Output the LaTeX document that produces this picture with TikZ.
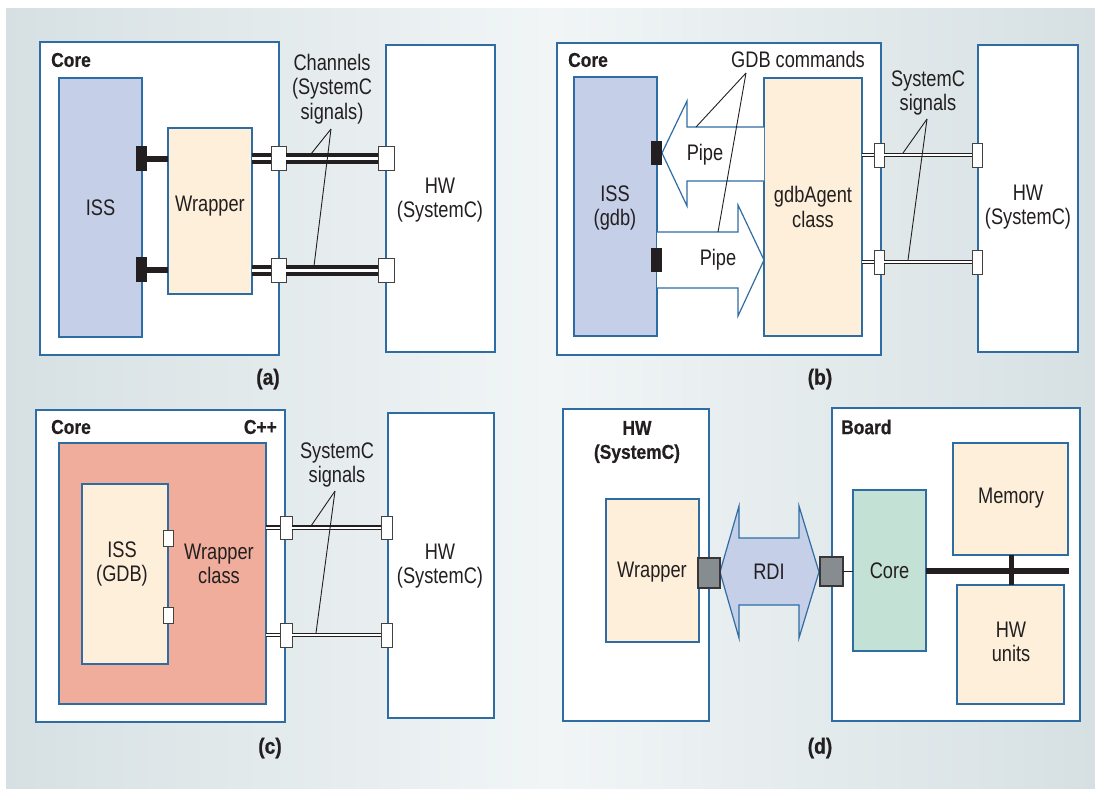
\documentclass[tikz,border=0pt]{standalone}
\usepackage{fontspec}
\setmainfont{Liberation Sans}[FakeStretch=0.81, BoldFeatures={FakeStretch=0.87, FakeBold=0.6}]
\usetikzlibrary{calc}
\definecolor{bluec}{HTML}{2E6DA4}
\definecolor{issc}{HTML}{C5CFE7}
\definecolor{creamc}{HTML}{FDEFD9}
\definecolor{salmonc}{HTML}{F0AD9C}
\definecolor{greenc}{HTML}{C4E1D6}
\definecolor{portc}{HTML}{878C91}
\definecolor{bgedge}{HTML}{D6E0E3}
\definecolor{bgmid}{HTML}{F1F5F6}
\definecolor{txt}{HTML}{231F20}
\tikzset{
  rbox/.style={draw=bluec, line width=1.2pt, inner sep=0pt, outer sep=0pt, anchor=north west},
  lab/.style={font=\fontsize{22.5}{24.5}\selectfont, text=txt, align=center, inner sep=0pt},
  title/.style={font=\fontsize{20}{24}\selectfont\bfseries, text=txt, align=center, inner sep=0pt},
  sublab/.style={font=\fontsize{22}{24}\selectfont\bfseries, text=txt, align=center, inner sep=0pt},
  port/.style={draw=txt!85, fill=white, line width=1pt, inner sep=0pt, outer sep=0pt, anchor=north west},
  gport/.style={draw=txt!90, fill=portc, line width=1.2pt, inner sep=0pt, outer sep=0pt, anchor=north west},
  blk/.style={fill=txt, draw=none, inner sep=0pt, outer sep=0pt, anchor=north west},
  dblA/.style={draw=txt, line width=4pt, double=white, double distance=3pt},
  dblB/.style={draw=txt, line width=1.3pt, double=white, double distance=2pt},
  lead/.style={draw=txt, line width=0.9pt},
  arrowline/.style={draw=bluec, line width=1.2pt, line join=miter}
}
\begin{document}
\begin{tikzpicture}[x=1pt,y=-1pt]
\useasboundingbox (0,0) rectangle (1095,788);
\shade[left color=bgedge, right color=bgedge, middle color=bgmid] (6,8) rectangle (1095,788);

% ---------------- (a)
\node[rbox, fill=white, minimum width=239pt, minimum height=313pt] (coreA) at (40,42) {};
\node[title, anchor=west] (coreAt) at (51,60) {Core};
\node[rbox, fill=issc, minimum width=83pt, minimum height=259pt] (issA) at (59,78) {};
\node[lab] (issAt) at (issA) {ISS};
\node[rbox, fill=creamc, minimum width=84pt, minimum height=166pt] (wrapA) at (168,128) {};
\node[lab] (wrapAt) at (210,206) {Wrapper};
\node[blk, minimum width=11pt, minimum height=25pt] (bA1) at (136,146) {};
\node[blk, minimum width=11pt, minimum height=25pt] (bA2) at (136,257) {};
\draw[txt, line width=6pt] (bA1.east) -- (wrapA.west |- bA1.east);
\draw[txt, line width=6pt] (bA2.east) -- (wrapA.west |- bA2.east);
\node[rbox, fill=white, minimum width=109pt, minimum height=307pt] (hwA) at (386,45) {};
\node[lab] (hwAt) at (440,200) {HW\\(SystemC)};
\node[port, minimum width=15pt, minimum height=24pt] (pA1) at (271,146) {};
\node[port, minimum width=15pt, minimum height=24pt] (pA2) at (271,258) {};
\node[port, minimum width=16pt, minimum height=24pt] (qA1) at (378,146) {};
\node[port, minimum width=16pt, minimum height=24pt] (qA2) at (378,258) {};
\draw[dblA] (wrapA.east |- pA1) -- (pA1.west);
\draw[dblA] (pA1.east) -- (qA1.west);
\draw[dblA] (wrapA.east |- pA2) -- (pA2.west);
\draw[dblA] (pA2.east) -- (qA2.west);
\node[lab] (chA) at (332,89) {Channels\\(SystemC\\signals)};
\coordinate (apA) at (331,129);
\coordinate (eA1) at (311,154);
\coordinate (eA2) at (314,266);
\draw[lead] (apA) -- (eA1);
\draw[lead] (apA) -- (eA2);
\node[sublab] (labA) at (268,379) {(a)};

% ---------------- (b)
\node[rbox, fill=white, minimum width=324pt, minimum height=312pt] (coreB) at (557,43) {};
\node[title, anchor=west] (coreBt) at (568,60) {Core};
\node[rbox, fill=issc, minimum width=83pt, minimum height=259pt] (issB) at (574,77) {};
\node[lab] (issBt) at (615,208) {ISS\\(gdb)};
\node[rbox, fill=creamc, minimum width=98pt, minimum height=258pt] (agB) at (764,78) {};
\node[lab] (agBt) at (813,207) {gdbAgent\\class};
\fill[white] (764,127) -- (687,127) -- (687,101) -- (662,153) -- (687,206) -- (687,181) -- (764,181) -- cycle;
\draw[arrowline] (764,127) -- (687,127) -- (687,101) -- (662,153) -- (687,206) -- (687,181) -- (764,181);
\fill[white] (657,232) -- (738,232) -- (738,205) -- (764,260) -- (738,316) -- (738,288) -- (657,288) -- cycle;
\draw[arrowline] (657,232) -- (738,232) -- (738,205) -- (764,260) -- (738,316) -- (738,288) -- (657,288);
\node[lab] (pipe1) at (705,155) {Pipe};
\node[lab] (pipe2) at (718,260) {Pipe};
\node[blk, minimum width=11pt, minimum height=24pt] (bB1) at (651,141) {};
\node[blk, minimum width=11pt, minimum height=24pt] (bB2) at (651,248) {};
\node[lab] (gdbc) at (798,59) {GDB commands};
\coordinate (apB) at (746,73);
\coordinate (eB1) at (696,127);
\coordinate (eB2) at (718,232);
\draw[lead] (apB) -- (eB1);
\draw[lead] (apB) -- (eB2);
\node[rbox, fill=white, minimum width=100pt, minimum height=307pt] (hwB) at (978,45) {};
\node[lab] (hwBt) at (1028,207) {HW\\(SystemC)};
\node[port, minimum width=10pt, minimum height=24pt] (pB1) at (874,143) {};
\node[port, minimum width=10pt, minimum height=24pt] (pB2) at (874,250) {};
\node[port, minimum width=10pt, minimum height=24pt] (qB1) at (972,143) {};
\node[port, minimum width=10pt, minimum height=24pt] (qB2) at (972,250) {};
\draw[dblB] (agB.east |- pB1) -- (pB1.west);
\draw[dblB] (pB1.east) -- (qB1.west);
\draw[dblB] (agB.east |- pB2) -- (pB2.west);
\draw[dblB] (pB2.east) -- (qB2.west);
\node[lab] (sigB) at (928,93) {SystemC\\signals};
\coordinate (apBs) at (927,119);
\coordinate (eBs1) at (903,153);
\coordinate (eBs2) at (908,260);
\draw[lead] (apBs) -- (eBs1);
\draw[lead] (apBs) -- (eBs2);
\node[sublab] (labB) at (820,379) {(b)};

% ---------------- (c)
\node[rbox, fill=white, minimum width=249pt, minimum height=312pt] (coreC) at (36,410) {};
\node[title, anchor=west] (coreCt) at (51,427) {Core};
\node[title, anchor=east] (cppC) at (277,427) {C++};
\node[rbox, fill=salmonc, minimum width=207pt, minimum height=261pt] (wcC) at (59,443) {};
\node[lab] (wcCt) at (219,564) {Wrapper\\class};
\node[rbox, fill=creamc, minimum width=86pt, minimum height=180pt] (issC) at (82,484) {};
\node[lab] (issCt) at (122,564) {ISS\\(GDB)};
\node[port, minimum width=10pt, minimum height=16pt] (sC1) at (163,530) {};
\node[port, minimum width=10pt, minimum height=16pt] (sC2) at (163,607) {};
\node[rbox, fill=white, minimum width=106pt, minimum height=305pt] (hwC) at (388,413) {};
\node[lab] (hwCt) at (440,566) {HW\\(SystemC)};
\node[port, minimum width=12pt, minimum height=23pt] (pC1) at (280,516) {};
\node[port, minimum width=12pt, minimum height=24pt] (pC2) at (280,623) {};
\node[port, minimum width=11pt, minimum height=23pt] (qC1) at (381,516) {};
\node[port, minimum width=11pt, minimum height=24pt] (qC2) at (381,623) {};
\draw[dblB] (wcC.east |- pC1) -- (pC1.west);
\draw[dblB] (pC1.east) -- (qC1.west);
\draw[dblB] (wcC.east |- pC2) -- (pC2.west);
\draw[dblB] (pC2.east) -- (qC2.west);
\node[lab] (sigC) at (337,465) {SystemC\\signals};
\coordinate (apC) at (335,491);
\coordinate (eC1) at (311,526);
\coordinate (eC2) at (316,633);
\draw[lead] (apC) -- (eC1);
\draw[lead] (apC) -- (eC2);
\node[sublab] (labC) at (270,748) {(c)};

% ---------------- (d)
\node[rbox, fill=white, minimum width=146pt, minimum height=312pt] (hwD) at (563,409) {};
\node[title] (hwDt) at (637,442) {HW\\(SystemC)};
\node[rbox, fill=creamc, minimum width=93pt, minimum height=143pt] (wrD) at (606,499) {};
\node[lab] (wrDt) at (652,572) {Wrapper};
\draw[arrowline, fill=issc] (720,572) -- (739,506) -- (739,538) -- (799,538) -- (799,506) -- (819,572) -- (799,638) -- (799,605) -- (739,605) -- (739,638) -- cycle;
\node[lab] (rdi) at (769,572) {RDI};
\node[rbox, fill=white, minimum width=248pt, minimum height=313pt] (boardD) at (832,408) {};
\node[title, anchor=west] (boardDt) at (841,427) {Board};
\node[rbox, fill=greenc, minimum width=73pt, minimum height=161pt] (coreD) at (853,490) {};
\node[lab] (coreDt) at (coreD) {Core};
\node[rbox, fill=creamc, minimum width=115pt, minimum height=112pt] (memD) at (953,443) {};
\node[lab] (memDt) at (1011,498) {Memory};
\node[rbox, fill=creamc, minimum width=107pt, minimum height=119pt] (hwuD) at (957,585) {};
\node[lab] (hwuDt) at (1011,642) {HW\\units};
\node[gport, minimum width=22pt, minimum height=30pt] (gD1) at (698,558) {};
\node[gport, minimum width=23pt, minimum height=29pt] (gD2) at (820,557) {};
\draw[txt, line width=1.3pt] (gD2.east) -- (coreD.west |- gD2.east);
\coordinate (busEnd) at (1069,571);
\draw[txt, line width=6pt] (coreD.east |- busEnd) -- (busEnd);
\draw[txt, line width=5pt] (memD.south -| 1011,0) -- (hwuD.north -| 1011,0);
\node[sublab] (labD) at (820,748) {(d)};
\end{tikzpicture}
\end{document}
